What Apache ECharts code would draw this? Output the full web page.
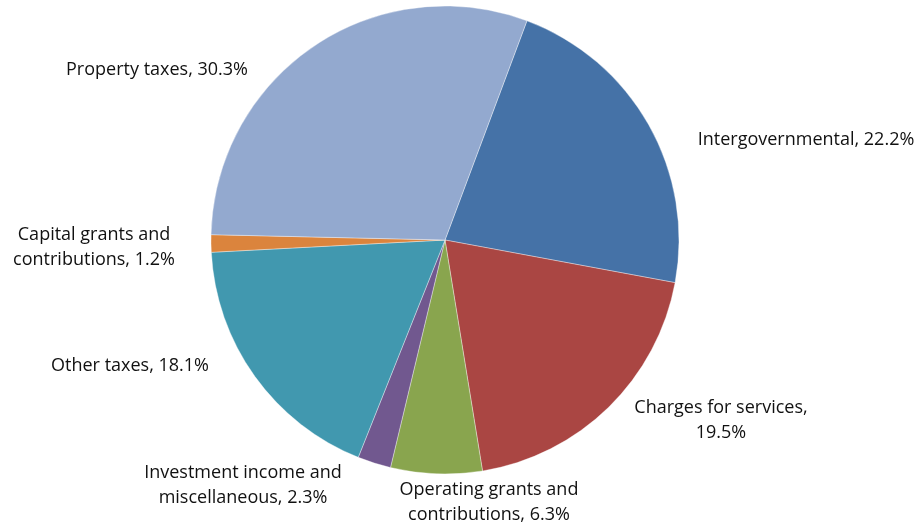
<!DOCTYPE html>
<html>
<head>
<meta charset="utf-8">
<script src="https://cdn.jsdelivr.net/npm/echarts@6/dist/echarts.min.js"></script>
<style>
  html, body { margin: 0; padding: 0; background: #fff; }
  #chart { width: 923px; height: 527px; }
</style>
</head>
<body>
<div id="chart"></div>
<script>
// Revenue sources, clockwise from the top-right slice
const categories = [
  'Intergovernmental',
  'Charges for services',
  'Operating grants and contributions',
  'Investment income and miscellaneous',
  'Other taxes',
  'Capital grants and contributions',
  'Property taxes'
];
const shares = [22.2, 19.5, 6.3, 2.3, 18.1, 1.2, 30.3];

// Label text split into lines (same order as categories)
const labelLines = [
  ['Intergovernmental, {v}'],
  ['Charges for services,', '{v}'],
  ['Operating grants and', 'contributions, {v}'],
  ['Investment income and', 'miscellaneous, {v}'],
  ['Other taxes, {v}'],
  ['Capital grants and', 'contributions, {v}'],
  ['Property taxes, {v}']
];

const sliceColors = ['#4572A7', '#AA4643', '#89A54E', '#71588F', '#4198AF', '#DB843D', '#93A9CF'];

// Centres of the label blocks, in pixels
const labelSpots = [
  [806, 140], [721, 420], [489, 502], [243, 485], [130, 366], [94, 247], [157, 70]
];

const chart = echarts.init(document.getElementById('chart'), null, { renderer: 'canvas' });

chart.setOption({
  animation: false,
  backgroundColor: '#ffffff',
  series: [{
    type: 'pie',
    center: [445, 240],
    radius: [0, 234],
    startAngle: 69.5,
    clockwise: true,
    avoidLabelOverlap: false,
    itemStyle: { borderColor: 'rgba(255,255,255,0.6)', borderWidth: 0.6 },
    label: {
      show: true,
      position: 'outside',
      fontFamily: 'Open Sans',
      fontSize: 18,
      lineHeight: 25,
      color: '#111111',
      align: 'center',
      formatter: p => labelLines[p.dataIndex]
        .map(s => s.replace('{v}', p.value.toFixed(1) + '%')).join('\n')
    },
    labelLine: { show: false },
    labelLayout: p => ({
      x: labelSpots[p.dataIndex][0],
      y: labelSpots[p.dataIndex][1],
      align: 'center',
      verticalAlign: 'middle'
    }),
    emphasis: { disabled: true },
    data: categories.map((c, i) => ({
      name: c,
      value: shares[i],
      itemStyle: { color: sliceColors[i] }
    }))
  }]
});
</script>
</body>
</html>
